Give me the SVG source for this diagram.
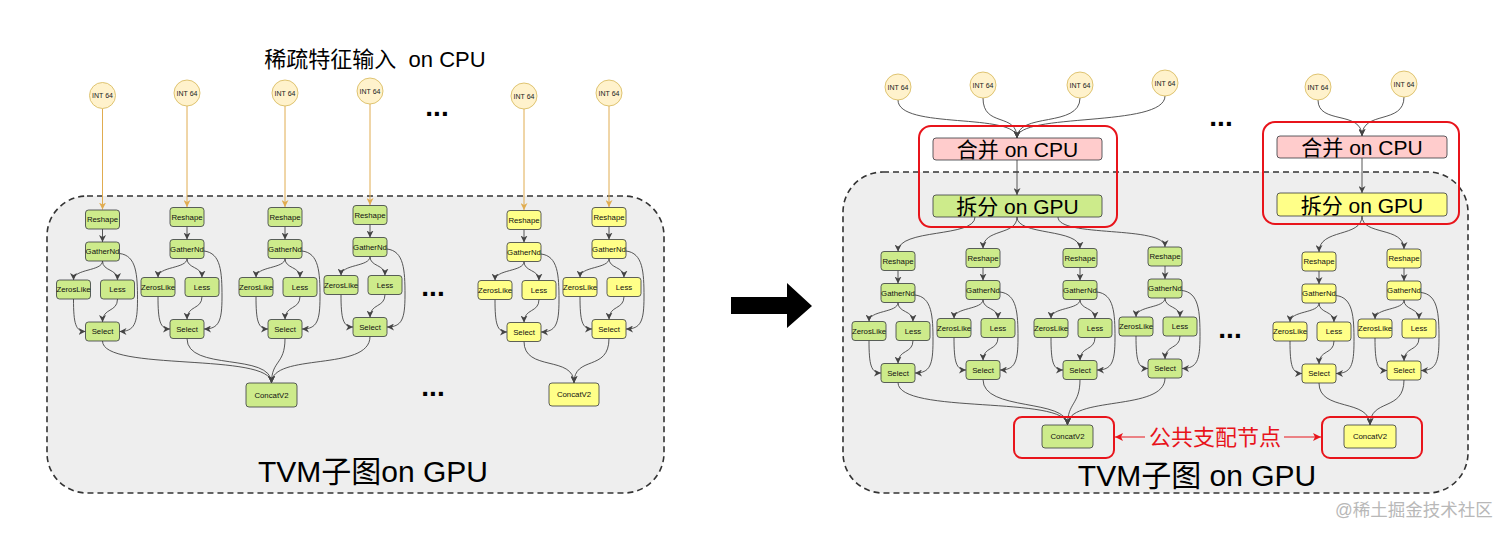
<svg xmlns="http://www.w3.org/2000/svg" width="1512" height="537" viewBox="0 0 1512 537">
<style>
.bg{fill:#ffffff}
.cont{fill:#eeeeee;stroke:#333333;stroke-width:1.6;stroke-dasharray:6 4}
.g{fill:#cdeb8b;stroke:#36393d;stroke-width:0.8}
.y{fill:#ffff88;stroke:#36393d;stroke-width:0.8}
.p{fill:#ffcccc;stroke:#36393d;stroke-width:0.8}
.c{fill:#fff2cc;stroke:#d6b656;stroke-width:0.8}
.lb{font-family:"Liberation Sans","Noto Sans CJK SC",sans-serif;font-size:7.8px;fill:#111;text-anchor:middle}
.ct{font-family:"Liberation Sans",sans-serif;font-size:7px;fill:#222;text-anchor:middle}
.big{font-family:"Liberation Sans","Noto Sans CJK SC",sans-serif;fill:#000;text-anchor:middle}
.e{fill:none;stroke:#444;stroke-width:0.9;marker-end:url(#ah)}
.o{fill:none;stroke:#e0ac50;stroke-width:1;marker-end:url(#ao)}
.red{fill:none;stroke:#e8141b;stroke-width:2}
.rl{fill:none;stroke:#e8141b;stroke-width:1;marker-end:url(#ar)}
.dots{font-family:"Liberation Sans",sans-serif;font-size:28px;font-weight:bold;fill:#000;text-anchor:middle}
</style>
<defs>
<marker id="ah" markerUnits="userSpaceOnUse" markerWidth="7" markerHeight="7" refX="7" refY="3.5" orient="auto"><path d="M0,0 L7,3.5 L0,7 L2,3.5 z" fill="#444"/></marker>
<marker id="ao" markerUnits="userSpaceOnUse" markerWidth="7" markerHeight="7" refX="7" refY="3.5" orient="auto"><path d="M0,0 L7,3.5 L0,7 L2,3.5 z" fill="#e0ac50"/></marker>
<marker id="ar" markerUnits="userSpaceOnUse" markerWidth="8" markerHeight="8" refX="8" refY="4" orient="auto"><path d="M0,0 L8,4 L0,8 L2,4 z" fill="#e8141b"/></marker>
</defs>
<rect class="bg" x="0" y="0" width="1512" height="537"/>

<!-- containers -->
<g id="left-container"><rect class="cont" x="47" y="196" width="617" height="297" rx="40"/></g>
<g id="right-container"><rect class="cont" x="843" y="172" width="625" height="321" rx="40"/></g>

<!-- titles -->
<g id="title-left"><text class="big" x="375" y="67" font-size="22" xml:space="preserve">稀疏特征输入  on CPU</text></g>
<g id="label-left"><text class="big" x="373" y="482" font-size="30">TVM子图on GPU</text></g>
<g id="label-right"><text class="big" x="1197" y="486" font-size="30">TVM子图 on GPU</text></g>
<g id="ellipses">
<text class="dots" x="437" y="116">...</text>
<text class="dots" x="433" y="296">...</text>
<text class="dots" x="433" y="396">...</text>
<text class="dots" x="1221" y="126">...</text>
<text class="dots" x="1230" y="338">...</text>
</g>

<!-- big arrow -->
<g id="big-arrow"><polygon points="731,297 787,297 787,283 812,306 787,328 787,314 731,314" fill="#000"/></g>

<!-- connectors -->
<g id="connectors">
  <g transform="translate(102.5,219.5)">
    <path class="o" d="M0,-111 L0,-10"/><path class="e" d="M0,9.5 L0,22.5"/>
    <path class="e" d="M0,41.5 C0,52 -29,49 -29,60.5"/><path class="e" d="M0,41.5 C0,52 15,49 15,60.5"/>
    <path class="e" d="M17,34 C34,36 35,55 35,80 C35,104 32,112 17,112"/>
    <path class="e" d="M-29,79.5 C-29,104 -27,112 -17,112"/><path class="e" d="M15,79.5 C15,93 0,88 0,102.5"/>
  </g>
  <g transform="translate(187,217)">
    <path class="o" d="M0,-111 L0,-10"/><path class="e" d="M0,9.5 L0,22.5"/>
    <path class="e" d="M0,41.5 C0,52 -29,49 -29,60.5"/><path class="e" d="M0,41.5 C0,52 15,49 15,60.5"/>
    <path class="e" d="M17,34 C34,36 35,55 35,80 C35,104 32,112 17,112"/>
    <path class="e" d="M-29,79.5 C-29,104 -27,112 -17,112"/><path class="e" d="M15,79.5 C15,93 0,88 0,102.5"/>
  </g>
  <g transform="translate(285,217)">
    <path class="o" d="M0,-111 L0,-10"/><path class="e" d="M0,9.5 L0,22.5"/>
    <path class="e" d="M0,41.5 C0,52 -29,49 -29,60.5"/><path class="e" d="M0,41.5 C0,52 15,49 15,60.5"/>
    <path class="e" d="M17,34 C34,36 35,55 35,80 C35,104 32,112 17,112"/>
    <path class="e" d="M-29,79.5 C-29,104 -27,112 -17,112"/><path class="e" d="M15,79.5 C15,93 0,88 0,102.5"/>
  </g>
  <g transform="translate(370,215)">
    <path class="o" d="M0,-111 L0,-10"/><path class="e" d="M0,9.5 L0,22.5"/>
    <path class="e" d="M0,41.5 C0,52 -29,49 -29,60.5"/><path class="e" d="M0,41.5 C0,52 15,49 15,60.5"/>
    <path class="e" d="M17,34 C34,36 35,55 35,80 C35,104 32,112 17,112"/>
    <path class="e" d="M-29,79.5 C-29,104 -27,112 -17,112"/><path class="e" d="M15,79.5 C15,93 0,88 0,102.5"/>
  </g>
  <g transform="translate(524,220)">
    <path class="o" d="M0,-111 L0,-10"/><path class="e" d="M0,9.5 L0,22.5"/>
    <path class="e" d="M0,41.5 C0,52 -29,49 -29,60.5"/><path class="e" d="M0,41.5 C0,52 15,49 15,60.5"/>
    <path class="e" d="M17,34 C34,36 35,55 35,80 C35,104 32,112 17,112"/>
    <path class="e" d="M-29,79.5 C-29,104 -27,112 -17,112"/><path class="e" d="M15,79.5 C15,93 0,88 0,102.5"/>
  </g>
  <g transform="translate(609,217)">
    <path class="o" d="M0,-111 L0,-10"/><path class="e" d="M0,9.5 L0,22.5"/>
    <path class="e" d="M0,41.5 C0,52 -29,49 -29,60.5"/><path class="e" d="M0,41.5 C0,52 15,49 15,60.5"/>
    <path class="e" d="M17,34 C34,36 35,55 35,80 C35,104 32,112 17,112"/>
    <path class="e" d="M-29,79.5 C-29,104 -27,112 -17,112"/><path class="e" d="M15,79.5 C15,93 0,88 0,102.5"/>
  </g>
  <path class="e" d="M102.5,341 C102.5,372 271.5,352 271.5,383"/>
  <path class="e" d="M187,338.5 C187,372 271.5,352 271.5,383"/>
  <path class="e" d="M285,338.5 C285,365 271.5,360 271.5,383"/>
  <path class="e" d="M370,336.5 C370,372 271.5,352 271.5,383"/>
  <path class="e" d="M524,341.5 C524,372 574,355 574,383"/>
  <path class="e" d="M609,338.5 C609,372 574,355 574,383"/>

  <!-- right -->
  <path class="e" d="M898,100 C898,130 1017,112 1017,138"/>
  <path class="e" d="M983,98 C983,128 1017,112 1017,138"/>
  <path class="e" d="M1080,98 C1080,128 1017,112 1017,138"/>
  <path class="e" d="M1165,96 C1165,128 1017,112 1017,138"/>
  <path class="e" d="M1318,100 C1318,125 1362,110 1362,136"/>
  <path class="e" d="M1404,97 C1404,125 1362,110 1362,136"/>
  <path class="e" d="M1017,160 L1017,195"/>
  <path class="e" d="M1362,158 L1362,193"/>
  <path class="e" d="M975,217 C975,238 898,228 898,251.5"/>
  <path class="e" d="M1017,217 C1017,236 983,228 983,248.5"/>
  <path class="e" d="M1017,217 C1017,236 1080,228 1080,248.5"/>
  <path class="e" d="M1058,217 C1058,238 1165,225 1165,247"/>
  <path class="e" d="M1362,216 C1362,238 1319,228 1319,252"/>
  <path class="e" d="M1362,216 C1362,236 1404,226 1404,249"/>
  <g transform="translate(898,261)">
    <path class="e" d="M0,9.5 L0,22.5"/>
    <path class="e" d="M0,41.5 C0,52 -29,49 -29,60.5"/><path class="e" d="M0,41.5 C0,52 15,49 15,60.5"/>
    <path class="e" d="M17,34 C34,36 35,55 35,80 C35,104 32,112 17,112"/>
    <path class="e" d="M-29,79.5 C-29,104 -27,112 -17,112"/><path class="e" d="M15,79.5 C15,93 0,88 0,102.5"/>
  </g>
  <g transform="translate(983,258)">
    <path class="e" d="M0,9.5 L0,22.5"/>
    <path class="e" d="M0,41.5 C0,52 -29,49 -29,60.5"/><path class="e" d="M0,41.5 C0,52 15,49 15,60.5"/>
    <path class="e" d="M17,34 C34,36 35,55 35,80 C35,104 32,112 17,112"/>
    <path class="e" d="M-29,79.5 C-29,104 -27,112 -17,112"/><path class="e" d="M15,79.5 C15,93 0,88 0,102.5"/>
  </g>
  <g transform="translate(1080,258)">
    <path class="e" d="M0,9.5 L0,22.5"/>
    <path class="e" d="M0,41.5 C0,52 -29,49 -29,60.5"/><path class="e" d="M0,41.5 C0,52 15,49 15,60.5"/>
    <path class="e" d="M17,34 C34,36 35,55 35,80 C35,104 32,112 17,112"/>
    <path class="e" d="M-29,79.5 C-29,104 -27,112 -17,112"/><path class="e" d="M15,79.5 C15,93 0,88 0,102.5"/>
  </g>
  <g transform="translate(1165,256.5)">
    <path class="e" d="M0,9.5 L0,22.5"/>
    <path class="e" d="M0,41.5 C0,52 -29,49 -29,60.5"/><path class="e" d="M0,41.5 C0,52 15,49 15,60.5"/>
    <path class="e" d="M17,34 C34,36 35,55 35,80 C35,104 32,112 17,112"/>
    <path class="e" d="M-29,79.5 C-29,104 -27,112 -17,112"/><path class="e" d="M15,79.5 C15,93 0,88 0,102.5"/>
  </g>
  <g transform="translate(1319,261.5)">
    <path class="e" d="M0,9.5 L0,22.5"/>
    <path class="e" d="M0,41.5 C0,52 -29,49 -29,60.5"/><path class="e" d="M0,41.5 C0,52 15,49 15,60.5"/>
    <path class="e" d="M17,34 C34,36 35,55 35,80 C35,104 32,112 17,112"/>
    <path class="e" d="M-29,79.5 C-29,104 -27,112 -17,112"/><path class="e" d="M15,79.5 C15,93 0,88 0,102.5"/>
  </g>
  <g transform="translate(1404,258.5)">
    <path class="e" d="M0,9.5 L0,22.5"/>
    <path class="e" d="M0,41.5 C0,52 -29,49 -29,60.5"/><path class="e" d="M0,41.5 C0,52 15,49 15,60.5"/>
    <path class="e" d="M17,34 C34,36 35,55 35,80 C35,104 32,112 17,112"/>
    <path class="e" d="M-29,79.5 C-29,104 -27,112 -17,112"/><path class="e" d="M15,79.5 C15,93 0,88 0,102.5"/>
  </g>
  <path class="e" d="M898,382.5 C898,415 1067.5,395 1067.5,425"/>
  <path class="e" d="M983,379.5 C983,412 1067.5,398 1067.5,425"/>
  <path class="e" d="M1080,379.5 C1080,405 1067.5,402 1067.5,425"/>
  <path class="e" d="M1165,378 C1165,412 1067.5,395 1067.5,425"/>
  <path class="e" d="M1319,383 C1319,412 1370,398 1370,425"/>
  <path class="e" d="M1404,380 C1404,412 1370,398 1370,425"/>
  <path class="rl" d="M1145,437 L1115,437"/>
  <path class="rl" d="M1284,437 L1321,437"/>
</g>

<!-- left nodes -->
<g id="L1" transform="translate(102.5,219.5)">
  <g id="L1-int"><circle class="c" cx="0" cy="-124" r="13"/><text class="ct" x="0" y="-121.5">INT 64</text></g>
  <g id="L1-reshape"><rect class="g" x="-17" y="-9.5" width="34" height="19" rx="3"/><text class="lb" x="0" y="2.7">Reshape</text></g>
  <g id="L1-gather"><rect class="g" x="-17" y="22.5" width="34" height="19" rx="3"/><text class="lb" x="0" y="34.7">GatherNd</text></g>
  <g id="L1-zeros"><rect class="g" x="-46" y="60.5" width="34" height="19" rx="3"/><text class="lb" x="-29" y="72.7">ZerosLike</text></g>
  <g id="L1-less"><rect class="g" x="-2" y="60.5" width="34" height="19" rx="3"/><text class="lb" x="15" y="72.7">Less</text></g>
  <g id="L1-select"><rect class="g" x="-17" y="102.5" width="34" height="19" rx="3"/><text class="lb" x="0" y="114.7">Select</text></g>
</g>
<g id="L2" transform="translate(187,217)">
  <g id="L2-int"><circle class="c" cx="0" cy="-124" r="13"/><text class="ct" x="0" y="-121.5">INT 64</text></g>
  <g id="L2-reshape"><rect class="g" x="-17" y="-9.5" width="34" height="19" rx="3"/><text class="lb" x="0" y="2.7">Reshape</text></g>
  <g id="L2-gather"><rect class="g" x="-17" y="22.5" width="34" height="19" rx="3"/><text class="lb" x="0" y="34.7">GatherNd</text></g>
  <g id="L2-zeros"><rect class="g" x="-46" y="60.5" width="34" height="19" rx="3"/><text class="lb" x="-29" y="72.7">ZerosLike</text></g>
  <g id="L2-less"><rect class="g" x="-2" y="60.5" width="34" height="19" rx="3"/><text class="lb" x="15" y="72.7">Less</text></g>
  <g id="L2-select"><rect class="g" x="-17" y="102.5" width="34" height="19" rx="3"/><text class="lb" x="0" y="114.7">Select</text></g>
</g>
<g id="L3" transform="translate(285,217)">
  <g id="L3-int"><circle class="c" cx="0" cy="-124" r="13"/><text class="ct" x="0" y="-121.5">INT 64</text></g>
  <g id="L3-reshape"><rect class="g" x="-17" y="-9.5" width="34" height="19" rx="3"/><text class="lb" x="0" y="2.7">Reshape</text></g>
  <g id="L3-gather"><rect class="g" x="-17" y="22.5" width="34" height="19" rx="3"/><text class="lb" x="0" y="34.7">GatherNd</text></g>
  <g id="L3-zeros"><rect class="g" x="-46" y="60.5" width="34" height="19" rx="3"/><text class="lb" x="-29" y="72.7">ZerosLike</text></g>
  <g id="L3-less"><rect class="g" x="-2" y="60.5" width="34" height="19" rx="3"/><text class="lb" x="15" y="72.7">Less</text></g>
  <g id="L3-select"><rect class="g" x="-17" y="102.5" width="34" height="19" rx="3"/><text class="lb" x="0" y="114.7">Select</text></g>
</g>
<g id="L4" transform="translate(370,215)">
  <g id="L4-int"><circle class="c" cx="0" cy="-124" r="13"/><text class="ct" x="0" y="-121.5">INT 64</text></g>
  <g id="L4-reshape"><rect class="g" x="-17" y="-9.5" width="34" height="19" rx="3"/><text class="lb" x="0" y="2.7">Reshape</text></g>
  <g id="L4-gather"><rect class="g" x="-17" y="22.5" width="34" height="19" rx="3"/><text class="lb" x="0" y="34.7">GatherNd</text></g>
  <g id="L4-zeros"><rect class="g" x="-46" y="60.5" width="34" height="19" rx="3"/><text class="lb" x="-29" y="72.7">ZerosLike</text></g>
  <g id="L4-less"><rect class="g" x="-2" y="60.5" width="34" height="19" rx="3"/><text class="lb" x="15" y="72.7">Less</text></g>
  <g id="L4-select"><rect class="g" x="-17" y="102.5" width="34" height="19" rx="3"/><text class="lb" x="0" y="114.7">Select</text></g>
</g>
<g id="L5" transform="translate(524,220)">
  <g id="L5-int"><circle class="c" cx="0" cy="-124" r="13"/><text class="ct" x="0" y="-121.5">INT 64</text></g>
  <g id="L5-reshape"><rect class="y" x="-17" y="-9.5" width="34" height="19" rx="3"/><text class="lb" x="0" y="2.7">Reshape</text></g>
  <g id="L5-gather"><rect class="y" x="-17" y="22.5" width="34" height="19" rx="3"/><text class="lb" x="0" y="34.7">GatherNd</text></g>
  <g id="L5-zeros"><rect class="y" x="-46" y="60.5" width="34" height="19" rx="3"/><text class="lb" x="-29" y="72.7">ZerosLike</text></g>
  <g id="L5-less"><rect class="y" x="-2" y="60.5" width="34" height="19" rx="3"/><text class="lb" x="15" y="72.7">Less</text></g>
  <g id="L5-select"><rect class="y" x="-17" y="102.5" width="34" height="19" rx="3"/><text class="lb" x="0" y="114.7">Select</text></g>
</g>
<g id="L6" transform="translate(609,217)">
  <g id="L6-int"><circle class="c" cx="0" cy="-124" r="13"/><text class="ct" x="0" y="-121.5">INT 64</text></g>
  <g id="L6-reshape"><rect class="y" x="-17" y="-9.5" width="34" height="19" rx="3"/><text class="lb" x="0" y="2.7">Reshape</text></g>
  <g id="L6-gather"><rect class="y" x="-17" y="22.5" width="34" height="19" rx="3"/><text class="lb" x="0" y="34.7">GatherNd</text></g>
  <g id="L6-zeros"><rect class="y" x="-46" y="60.5" width="34" height="19" rx="3"/><text class="lb" x="-29" y="72.7">ZerosLike</text></g>
  <g id="L6-less"><rect class="y" x="-2" y="60.5" width="34" height="19" rx="3"/><text class="lb" x="15" y="72.7">Less</text></g>
  <g id="L6-select"><rect class="y" x="-17" y="102.5" width="34" height="19" rx="3"/><text class="lb" x="0" y="114.7">Select</text></g>
</g>
<g id="L-concat-green"><rect class="g" x="246" y="383" width="51" height="24" rx="3"/><text class="lb" x="271.5" y="397.7">ConcatV2</text></g>
<g id="L-concat-yellow"><rect class="y" x="549" y="383" width="50" height="23" rx="3"/><text class="lb" x="574" y="397.2">ConcatV2</text></g>

<!-- right nodes -->
<g id="R-int1"><circle class="c" cx="898" cy="87" r="13"/><text class="ct" x="898" y="89.5">INT 64</text></g>
<g id="R-int2"><circle class="c" cx="983" cy="85" r="13"/><text class="ct" x="983" y="87.5">INT 64</text></g>
<g id="R-int3"><circle class="c" cx="1080" cy="85" r="13"/><text class="ct" x="1080" y="87.5">INT 64</text></g>
<g id="R-int4"><circle class="c" cx="1165" cy="83" r="13"/><text class="ct" x="1165" y="85.5">INT 64</text></g>
<g id="R-int5"><circle class="c" cx="1318" cy="87" r="13"/><text class="ct" x="1318" y="89.5">INT 64</text></g>
<g id="R-int6"><circle class="c" cx="1404" cy="84" r="13"/><text class="ct" x="1404" y="86.5">INT 64</text></g>

<g id="merge-left"><rect class="p" x="933" y="138" width="169" height="22" rx="3"/><text class="big" x="1017.5" y="157" font-size="21">合并 on CPU</text></g>
<g id="split-left"><rect class="g" x="933" y="195" width="169" height="22" rx="3"/><text class="big" x="1017.5" y="214" font-size="21">拆分 on GPU</text></g>
<g id="merge-right"><rect class="p" x="1277" y="136" width="170" height="22" rx="3"/><text class="big" x="1362" y="155" font-size="21">合并 on CPU</text></g>
<g id="split-right"><rect class="y" x="1277" y="193" width="170" height="23" rx="3"/><text class="big" x="1362" y="212.5" font-size="21">拆分 on GPU</text></g>

<g id="R1" transform="translate(898,261)">
  <g id="R1-reshape"><rect class="g" x="-17" y="-9.5" width="34" height="19" rx="3"/><text class="lb" x="0" y="2.7">Reshape</text></g>
  <g id="R1-gather"><rect class="g" x="-17" y="22.5" width="34" height="19" rx="3"/><text class="lb" x="0" y="34.7">GatherNd</text></g>
  <g id="R1-zeros"><rect class="g" x="-46" y="60.5" width="34" height="19" rx="3"/><text class="lb" x="-29" y="72.7">ZerosLike</text></g>
  <g id="R1-less"><rect class="g" x="-2" y="60.5" width="34" height="19" rx="3"/><text class="lb" x="15" y="72.7">Less</text></g>
  <g id="R1-select"><rect class="g" x="-17" y="102.5" width="34" height="19" rx="3"/><text class="lb" x="0" y="114.7">Select</text></g>
</g>
<g id="R2" transform="translate(983,258)">
  <g id="R2-reshape"><rect class="g" x="-17" y="-9.5" width="34" height="19" rx="3"/><text class="lb" x="0" y="2.7">Reshape</text></g>
  <g id="R2-gather"><rect class="g" x="-17" y="22.5" width="34" height="19" rx="3"/><text class="lb" x="0" y="34.7">GatherNd</text></g>
  <g id="R2-zeros"><rect class="g" x="-46" y="60.5" width="34" height="19" rx="3"/><text class="lb" x="-29" y="72.7">ZerosLike</text></g>
  <g id="R2-less"><rect class="g" x="-2" y="60.5" width="34" height="19" rx="3"/><text class="lb" x="15" y="72.7">Less</text></g>
  <g id="R2-select"><rect class="g" x="-17" y="102.5" width="34" height="19" rx="3"/><text class="lb" x="0" y="114.7">Select</text></g>
</g>
<g id="R3" transform="translate(1080,258)">
  <g id="R3-reshape"><rect class="g" x="-17" y="-9.5" width="34" height="19" rx="3"/><text class="lb" x="0" y="2.7">Reshape</text></g>
  <g id="R3-gather"><rect class="g" x="-17" y="22.5" width="34" height="19" rx="3"/><text class="lb" x="0" y="34.7">GatherNd</text></g>
  <g id="R3-zeros"><rect class="g" x="-46" y="60.5" width="34" height="19" rx="3"/><text class="lb" x="-29" y="72.7">ZerosLike</text></g>
  <g id="R3-less"><rect class="g" x="-2" y="60.5" width="34" height="19" rx="3"/><text class="lb" x="15" y="72.7">Less</text></g>
  <g id="R3-select"><rect class="g" x="-17" y="102.5" width="34" height="19" rx="3"/><text class="lb" x="0" y="114.7">Select</text></g>
</g>
<g id="R4" transform="translate(1165,256.5)">
  <g id="R4-reshape"><rect class="g" x="-17" y="-9.5" width="34" height="19" rx="3"/><text class="lb" x="0" y="2.7">Reshape</text></g>
  <g id="R4-gather"><rect class="g" x="-17" y="22.5" width="34" height="19" rx="3"/><text class="lb" x="0" y="34.7">GatherNd</text></g>
  <g id="R4-zeros"><rect class="g" x="-46" y="60.5" width="34" height="19" rx="3"/><text class="lb" x="-29" y="72.7">ZerosLike</text></g>
  <g id="R4-less"><rect class="g" x="-2" y="60.5" width="34" height="19" rx="3"/><text class="lb" x="15" y="72.7">Less</text></g>
  <g id="R4-select"><rect class="g" x="-17" y="102.5" width="34" height="19" rx="3"/><text class="lb" x="0" y="114.7">Select</text></g>
</g>
<g id="R5" transform="translate(1319,261.5)">
  <g id="R5-reshape"><rect class="y" x="-17" y="-9.5" width="34" height="19" rx="3"/><text class="lb" x="0" y="2.7">Reshape</text></g>
  <g id="R5-gather"><rect class="y" x="-17" y="22.5" width="34" height="19" rx="3"/><text class="lb" x="0" y="34.7">GatherNd</text></g>
  <g id="R5-zeros"><rect class="y" x="-46" y="60.5" width="34" height="19" rx="3"/><text class="lb" x="-29" y="72.7">ZerosLike</text></g>
  <g id="R5-less"><rect class="y" x="-2" y="60.5" width="34" height="19" rx="3"/><text class="lb" x="15" y="72.7">Less</text></g>
  <g id="R5-select"><rect class="y" x="-17" y="102.5" width="34" height="19" rx="3"/><text class="lb" x="0" y="114.7">Select</text></g>
</g>
<g id="R6" transform="translate(1404,258.5)">
  <g id="R6-reshape"><rect class="y" x="-17" y="-9.5" width="34" height="19" rx="3"/><text class="lb" x="0" y="2.7">Reshape</text></g>
  <g id="R6-gather"><rect class="y" x="-17" y="22.5" width="34" height="19" rx="3"/><text class="lb" x="0" y="34.7">GatherNd</text></g>
  <g id="R6-zeros"><rect class="y" x="-46" y="60.5" width="34" height="19" rx="3"/><text class="lb" x="-29" y="72.7">ZerosLike</text></g>
  <g id="R6-less"><rect class="y" x="-2" y="60.5" width="34" height="19" rx="3"/><text class="lb" x="15" y="72.7">Less</text></g>
  <g id="R6-select"><rect class="y" x="-17" y="102.5" width="34" height="19" rx="3"/><text class="lb" x="0" y="114.7">Select</text></g>
</g>
<g id="R-concat-green"><rect class="g" x="1042" y="425" width="51" height="23" rx="3"/><text class="lb" x="1067.5" y="439.2">ConcatV2</text></g>
<g id="R-concat-yellow"><rect class="y" x="1344" y="425" width="52" height="23" rx="3"/><text class="lb" x="1370" y="439.2">ConcatV2</text></g>

<!-- red highlights -->
<g id="highlights">
  <rect class="red" x="919" y="126" width="198" height="101" rx="12"/>
  <rect class="red" x="1263" y="122" width="196" height="102" rx="12"/>
  <rect class="red" x="1014" y="417" width="100" height="41" rx="8"/>
  <rect class="red" x="1322" y="417" width="100" height="41" rx="8"/>
</g>
<g id="dominator-label"><text x="1215" y="445" font-family="Liberation Sans,Noto Sans CJK SC,sans-serif" font-size="22" fill="#e8141b" text-anchor="middle">公共支配节点</text></g>
<g id="watermark"><text x="1414" y="516" font-family="Liberation Sans,Noto Sans CJK SC,sans-serif" font-size="17.5" fill="#b8b8b8" text-anchor="middle">@稀土掘金技术社区</text></g>
</svg>
